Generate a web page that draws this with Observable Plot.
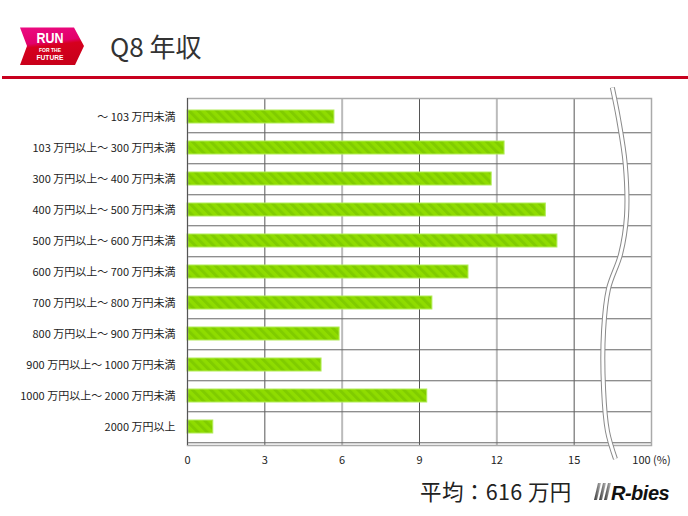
<!DOCTYPE html>
<html><head><meta charset="utf-8">
<script src="https://cdn.jsdelivr.net/npm/d3@7"></script>
<script src="https://cdn.jsdelivr.net/npm/@observablehq/plot@0.6"></script>
<style>
body{margin:0;background:#fff;font-family:"Noto Sans CJK JP","Noto Sans",sans-serif;}
#page{position:relative;width:688px;height:516px;overflow:hidden;background:#fff;}
#logo{position:absolute;left:20px;top:27px;}
#title{position:absolute;left:110px;top:26px;font-size:26px;color:#333;line-height:40px;white-space:nowrap;}
#rule{position:absolute;left:2px;right:0;top:76px;height:3px;background:#c8001e;}
#chart{position:absolute;left:0;top:80px;}
#chart g[aria-label^="x-axis"] text{font-size:11px;}
#avg{position:absolute;left:420px;top:474px;font-size:21.5px;letter-spacing:0.4px;line-height:34px;color:#222;white-space:nowrap;}
#rbies{position:absolute;left:592px;top:477px;}
</style></head>
<body><div id="page">
<svg id="logo" width="68" height="40">
<defs><linearGradient id="lg" x1="0" y1="0" x2="0.2" y2="1"><stop offset="0" stop-color="#ec0a82"/><stop offset="0.45" stop-color="#e2006a"/><stop offset="0.55" stop-color="#d6001e"/><stop offset="1" stop-color="#c9001a"/></linearGradient></defs>
<polygon points="0,0.5 54,0.5 64,19 55,38 0,38 7,19" fill="url(#lg)"/>
<text x="30" y="16" text-anchor="middle" font-family="Liberation Sans, Arial, sans-serif" font-weight="bold" font-size="15.5" textLength="27" lengthAdjust="spacingAndGlyphs" fill="#fff">RUN</text>
<text x="30" y="24.5" text-anchor="middle" font-family="Liberation Sans, Arial, sans-serif" font-weight="bold" font-size="5" textLength="22" lengthAdjust="spacingAndGlyphs" fill="#fff">FOR THE</text>
<text x="30" y="32.5" text-anchor="middle" font-family="Liberation Sans, Arial, sans-serif" font-weight="bold" font-size="7.5" textLength="27" lengthAdjust="spacingAndGlyphs" fill="#fff">FUTURE</text>
</svg>
<div id="title">Q8 年収</div>
<div id="rule"></div>
<div id="chart"></div>
<div id="avg">平均：616 万円</div>
<svg id="rbies" width="90" height="28">
<defs><linearGradient id="rg" x1="0" y1="0" x2="1" y2="0"><stop offset="0" stop-color="#333"/><stop offset="1" stop-color="#bbb"/></linearGradient></defs>
<polygon points="6,6 9,6 5,23 2,23" fill="url(#rg)"/>
<polygon points="11,6 14,6 10,23 7,23" fill="url(#rg)"/>
<polygon points="16,6 19,6 15,23 12,23" fill="url(#rg)"/>
<text x="19" y="23" font-family="Liberation Sans, Arial, sans-serif" font-weight="bold" font-style="italic" font-size="20" letter-spacing="-0.5" fill="#111">R-bies</text>
</svg>
</div>
<script>
const categories = ["～ 103 万円未満","103 万円以上～ 300 万円未満","300 万円以上～ 400 万円未満","400 万円以上～ 500 万円未満","500 万円以上～ 600 万円未満","600 万円以上～ 700 万円未満","700 万円以上～ 800 万円未満","800 万円以上～ 900 万円未満","900 万円以上～ 1000 万円未満","1000 万円以上～ 2000 万円未満","2000 万円以上"];
const values = [5.7, 12.3, 11.8, 13.9, 14.35, 10.9, 9.5, 5.9, 5.2, 9.3, 1.0];
const xTicks = [0, 3, 6, 9, 12, 15, 18];
const xTickLabels = ["0", "3", "6", "9", "12", "15", "100 (%)"];
const gridDark = [3, 9, 15];
const gridLight = [6, 12];

const data = categories.map((c, i) => ({category: c, value: values[i]}));

const H = 395, MT = 18, MB = 30;
const step = (H - MT - MB) / categories.length;

function breakMark(index, scales, values, dims) {
  const x = scales.x;
  const top = dims.marginTop, bot = dims.height - dims.marginBottom;
  const pts = [[16.5,-0.03],[16.74,0.06],[17.0,0.19],[17.05,0.34],[16.82,0.45],[16.35,0.55],[16.16,0.67],[16.16,0.84],[16.31,0.96],[16.62,1.04]];
  const line = d3.line().curve(d3.curveCatmullRom)(pts.map(([a,f]) => [x(a), top + f*(bot-top)]));
  const g = d3.create("svg:g");
  g.append("path").attr("d", line).attr("fill","none").attr("stroke","#8a8a8a").attr("stroke-width",5);
  g.append("path").attr("d", line).attr("fill","none").attr("stroke","#fff").attr("stroke-width",3);
  return g.node();
}

const chart = Plot.plot({
  width: 688, height: H,
  marginLeft: 187, marginRight: 37, marginTop: MT, marginBottom: MB,
  style: {fontFamily: '"Noto Sans CJK JP", sans-serif', fontSize: "11px", color: "#222", background: "transparent"},
  x: {domain: [0, 18], ticks: xTicks, tickFormat: d => xTickLabels[xTicks.indexOf(d)], tickSize: 0, tickPadding: 11, label: null},
  y: {domain: categories, paddingInner: 0.58, paddingOuter: 0.29, tickSize: 0, tickPadding: 12, label: null},
  marks: [
    Plot.ruleX(gridLight, {stroke: "#bbb", strokeWidth: 2}),
    Plot.ruleX(gridDark, {stroke: "#555", strokeWidth: 1}),
    Plot.ruleY(categories, {y: d => d, dy: step / 2, stroke: "#666", strokeWidth: 1}),
    Plot.barX(data, {x: "value", y: "category", fill: "url(#stripes)", stroke: "#b2ec58", strokeWidth: 1}),
    Plot.frame({stroke: "#aaa", strokeWidth: 1.5}),
    Plot.ruleX([0], {stroke: "#555", strokeWidth: 1}),
    breakMark
  ]
});
const defs = d3.select(chart).insert("defs", ":first-child");
const pat = defs.append("pattern").attr("id", "stripes").attr("patternUnits", "userSpaceOnUse")
  .attr("width", 6.5).attr("height", 6.5).attr("patternTransform", "rotate(-45)");
pat.append("rect").attr("width", 6.5).attr("height", 6.5).attr("fill", "#8fdc00");
pat.append("rect").attr("width", 3).attr("height", 6.5).attr("fill", "#80cc00");
document.getElementById("chart").appendChild(chart);
</script>
</body></html>
